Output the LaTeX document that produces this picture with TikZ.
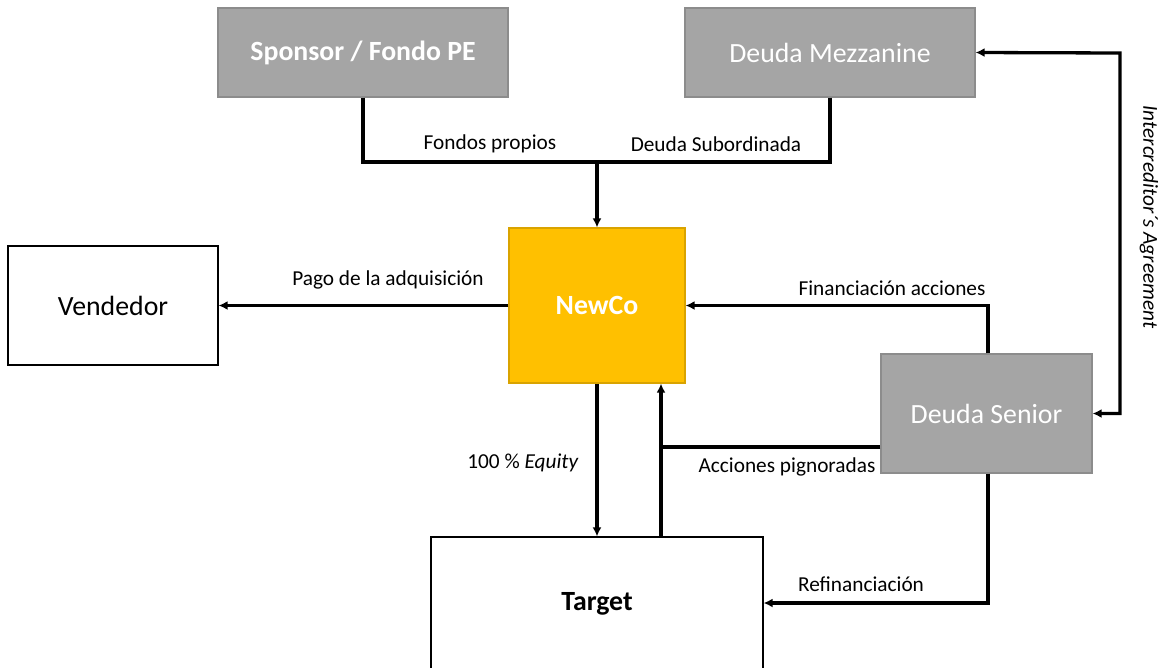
\documentclass[tikz,border=0pt]{standalone}
\usepackage{fontspec}
\setmainfont{Carlito}
\usetikzlibrary{arrows.meta}
\definecolor{boxgray}{HTML}{A5A5A5}
\definecolor{boxgrayedge}{HTML}{8C8C8C}
\definecolor{newcofill}{HTML}{FFC000}
\definecolor{newcoedge}{HTML}{D9A300}
\tikzset{
  boxfont/.style={font=\fontsize{27.8}{31}\selectfont},
  boldboxfont/.style={font=\bfseries\fontsize{27.8}{31}\selectfont},
  graybox/.style={draw=boxgrayedge, line width=1.2pt, fill=boxgray, text=white, inner sep=0pt, boxfont},
  whitebox/.style={draw=black, line width=1.2pt, fill=white, inner sep=0pt, boxfont},
  flow/.style={line width=3.3pt, -{Latex[length=9pt,width=9pt]}},
  plain/.style={line width=3.3pt},
  lbl/.style={font=\fontsize{21.3}{24}\selectfont, inner sep=0pt}
}
\begin{document}
\begin{tikzpicture}[x=1pt, y=-1pt]
\useasboundingbox (0,0) rectangle (1162,667);
\clip (0,0) rectangle (1162,667);

% boxes
\node[graybox, minimum width=290pt, minimum height=89pt, boldboxfont]
  (sponsor) at (363,52.5) {Sponsor / Fondo PE};
\node[graybox, minimum width=290pt, minimum height=89pt] (mezz) at (830,52.5) {Deuda Mezzanine};
\node[draw=newcoedge, line width=1.2pt, fill=newcofill, text=white, inner sep=0pt,
  minimum width=176pt, minimum height=155pt, boldboxfont]
  (newco) at (597,305.5) {NewCo};
\node[whitebox, minimum width=210pt, minimum height=119pt] (vend) at (113,305.5) {Vendedor};
\node[graybox, minimum width=211pt, minimum height=119pt] (senior) at (986.5,413.5) {Deuda Senior};
\node[whitebox, minimum width=332pt, minimum height=200pt] (target) at (597,637) {};
\node[boldboxfont, inner sep=0pt] (targetlbl) at (597,604) {Target};

% equity and debt into NewCo
\coordinate (join) at (597,162);
\draw[plain] (sponsor.south) |- (join);
\draw[plain] (mezz.south) |- (join);
\draw[flow] (join) -- (newco.north);
\node[lbl] (lfp) at (490,144) {Fondos propios};
\node[lbl] (lds) at (716,144) {Deuda Subordinada};

% payment to seller
\draw[flow] (newco.west) -- (vend.east);
\node[lbl] (lpago) at (388,280) {Pago de la adquisición};

% share financing from senior debt
\draw[flow] (senior.north -| 988,0) |- (newco.east);
\node[lbl] (lfin) at (892,288) {Financiación acciones};

% intercreditor agreement
\coordinate (icr) at (1120,53);
\draw[line width=3.3pt, {Latex[length=9pt,width=9pt]}-{Latex[length=9pt,width=9pt]}]
  (mezz.east) -- (icr) |- (senior.east);
\node[lbl, rotate=-90, font=\itshape\fontsize{21.3}{24}\selectfont] (licr) at (1149,217) {Intercreditor´s Agreement};

% pledged shares
\coordinate (pledge) at (661,447);
\draw[flow] (target.north -| pledge) -- (newco.south -| pledge);
\draw[plain] (senior.west |- pledge) -- ([xshift=-1.65pt]pledge);
\node[lbl] (lacc) at (787,467) {Acciones pignoradas};

% full ownership of target
\draw[flow] (newco.south) -- (target.north -| newco.south);
\node[lbl] (leq) at (523,463) {100 \% \textit{Equity}};

% refinancing
\draw[flow] (senior.south -| 988,0) |- (target.east |- 0,603);
\node[lbl] (lref) at (861,584) {Refinanciación};
\end{tikzpicture}
\end{document}
